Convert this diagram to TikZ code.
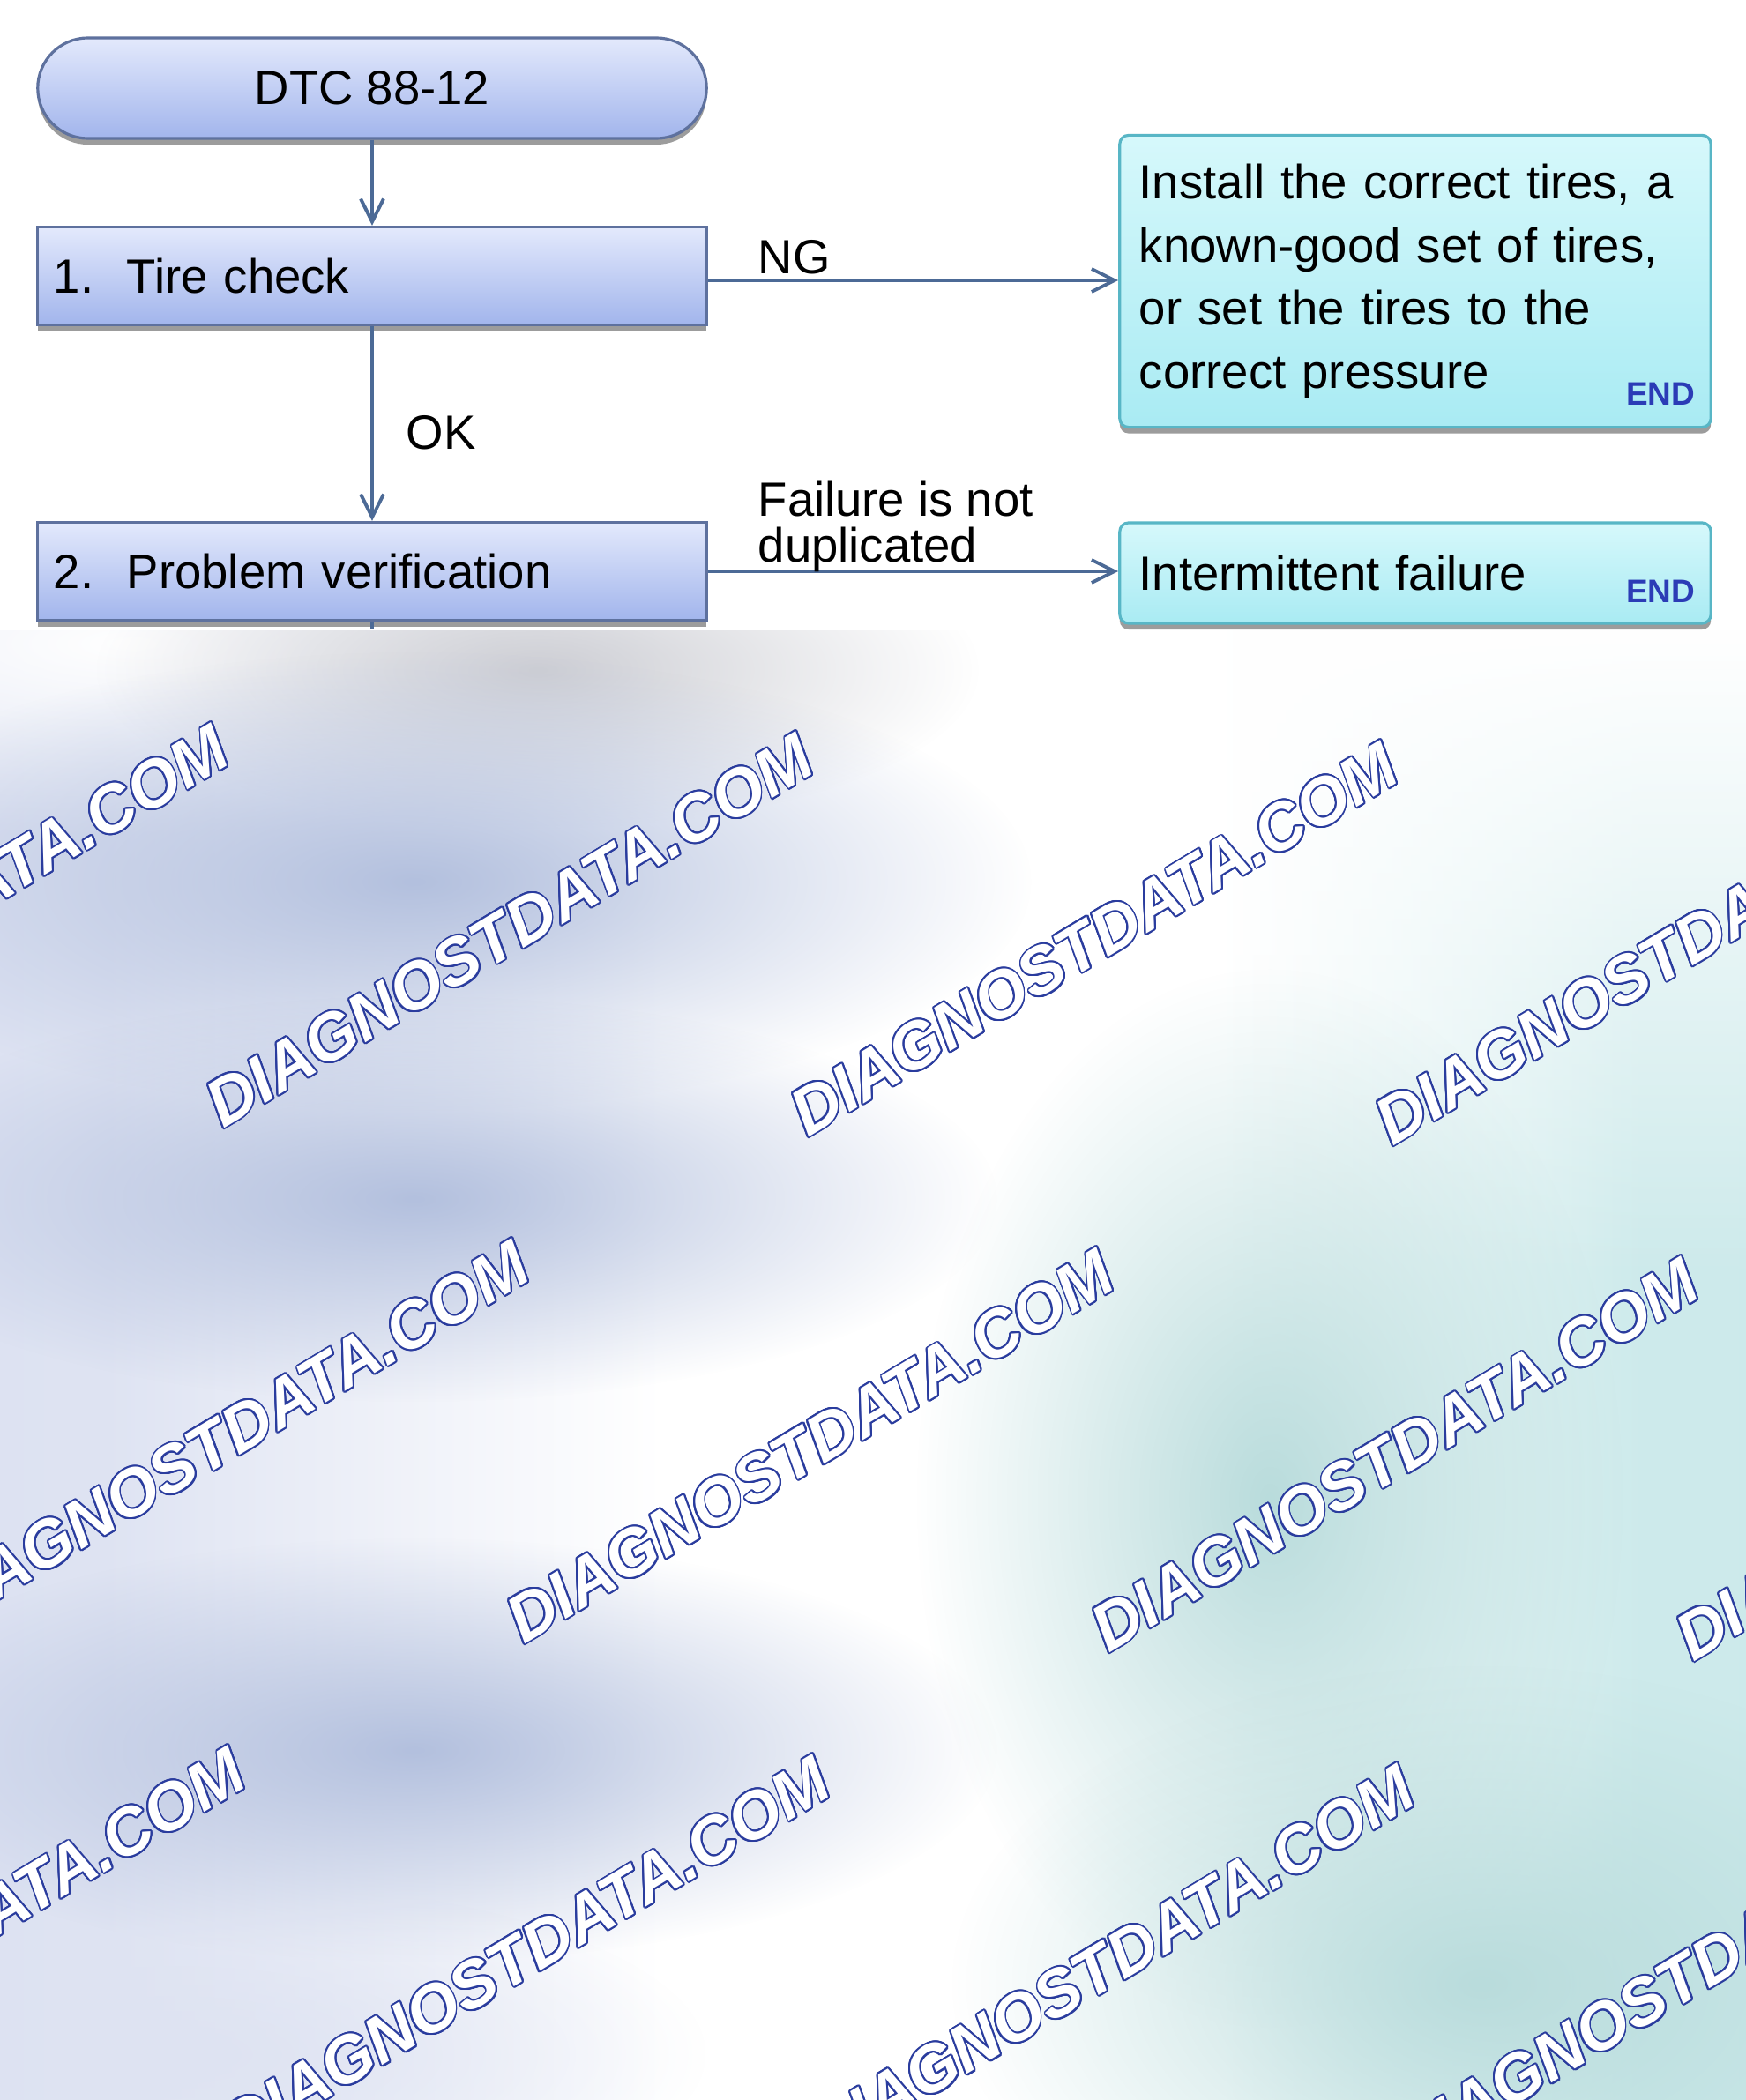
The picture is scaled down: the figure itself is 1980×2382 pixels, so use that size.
\documentclass[tikz,border=0pt]{standalone}
\usepackage{fontspec}
\setmainfont{Liberation Sans}
\usepackage[copies]{contour}
\usetikzlibrary{arrows.meta,shadows,fadings}

\definecolor{bluetop}{HTML}{E3E9FC}
\definecolor{bluebot}{HTML}{A2B5EC}
\definecolor{blueline}{HTML}{5E719E}
\definecolor{tealtop}{HTML}{D6F8FB}
\definecolor{tealbot}{HTML}{A9EBF3}
\definecolor{tealline}{HTML}{58B6C6}
\definecolor{arrowcol}{HTML}{4C6A96}
\definecolor{endcol}{HTML}{2B3CB6}
\definecolor{wmblue}{HTML}{2A3C9E}
\definecolor{bgleft}{HTML}{D6DDEF}
\definecolor{bgleftb}{HTML}{DEE3F2}
\definecolor{bgright}{HTML}{CDEAEB}
\definecolor{bgrightb}{HTML}{C8E9EA}
\definecolor{blobblue}{HTML}{B3C0DE}
\definecolor{blobgrey}{HTML}{CDCED4}
\definecolor{blobteal}{HTML}{B9DCDC}

\tikzfading[name=softblob, inner color=transparent!0, outer color=transparent!100]
\tikzfading[name=fadedown, top color=transparent!0, bottom color=transparent!100]
\pgfdeclarehorizontalshading{bgshade}{100bp}{color(0bp)=(bgleft); color(28bp)=(bgleftb); color(44bp)=(white); color(60bp)=(white); color(72bp)=(bgright); color(100bp)=(bgrightb)}

\contourlength{0.55pt}
\contournumber{20}

\begin{document}
\begin{tikzpicture}[x=0.01cm, y=-0.01cm,
  txt/.style={font=\fontsize{15.5pt}{20.4pt}\selectfont, text=black},
  shadowed/.style={drop shadow={shadow xshift=0pt, shadow yshift=-0.07cm, fill=black!55, opacity=0.7}},
  pill/.style={txt, shadowed, draw=blueline, line width=0.9pt, top color=bluetop, bottom color=bluebot, rounded corners=0.57cm, minimum width=7.58cm, minimum height=1.14cm},
  stepbox/.style={txt, shadowed, draw=blueline, line width=0.9pt, top color=bluetop, bottom color=bluebot, minimum height=1.11cm, text width=7.22cm, inner xsep=0.18cm, align=left},
  endbox/.style={txt, shadowed, draw=tealline, line width=0.9pt, top color=tealtop, bottom color=tealbot, rounded corners=0.1cm, text width=6.26cm, inner xsep=0.22cm, align=left},
  endlbl/.style={font=\bfseries\fontsize{10.5pt}{12pt}\selectfont, text=endcol, inner sep=0pt},
  lbl/.style={txt, inner sep=0pt, align=left},
  conn/.style={draw=arrowcol, line width=1.1pt, -{Straight Barb[length=0.26cm, width=0.26cm]}},
  plainline/.style={draw=arrowcol, line width=1.1pt},
  wm/.style={font=\bfseries\itshape\fontsize{21.3pt}{24pt}\selectfont, text=white, rotate=31, inner sep=0pt}
]
\useasboundingbox (0,0) rectangle (1980,2382);
\fill[white] (0,0) rectangle (1980,2382);

% blurred background
\begin{scope}
\clip (0,715) rectangle (1980,2382);
\shade[shading=bgshade] (0,715) rectangle (1980,2382);
\fill[white, path fading=fadedown] (1150,715) rectangle (1980,1450);
\fill[white, path fading=softblob] (150,730) ellipse [x radius=8cm, y radius=2.2cm];
\fill[white, path fading=softblob] (1060,1100) ellipse [x radius=4cm, y radius=12cm];
\fill[blobgrey, path fading=softblob] (610,760) ellipse [x radius=5cm, y radius=1.8cm];
\fill[blobblue, path fading=softblob] (470,1000) ellipse [x radius=7cm, y radius=2.6cm];
\fill[blobblue, path fading=softblob] (470,1360) ellipse [x radius=6.6cm, y radius=2.3cm];
\fill[blobblue, path fading=softblob] (470,1985) ellipse [x radius=6.6cm, y radius=2.4cm];
\fill[bgleftb, path fading=softblob] (200,2330) ellipse [x radius=6cm, y radius=2cm];
\fill[blobteal, path fading=softblob] (1440,1700) ellipse [x radius=4cm, y radius=6cm];
\fill[blobteal, path fading=softblob] (1680,2250) ellipse [x radius=6cm, y radius=3.6cm];
\foreach \i/\j [count=\k] in {-1/0,0/0,1/0,2/0,-1/1,0/1,1/1,2/1,-2/2,-1/2,0/2,1/2}{
  \node[wm] (wm\k) at ({578+663*\i+341*\j},{1056+10*\i+585*\j}) {\contour{wmblue}{DIAGNOSTDATA.COM}};
}
\end{scope}

% flowchart
\node[pill] (dtc) at (422,100) {DTC 88-12};
\node[stepbox] (s1) at (422,313) {\makebox[0.83cm][l]{1.}Tire check};
\node[stepbox] (s2) at (422,648) {\makebox[0.83cm][l]{2.}Problem verification};
\node[endbox, minimum height=3.31cm] (r1) at (1605,319) {Install the correct tires, a\\known-good set of tires,\\or set the tires to the\\correct pressure};
\node[endbox, minimum height=1.14cm] (r2) at (1605,650) {Intermittent failure};
\node[endlbl, anchor=east] (e1) at ([xshift=-0.19cm, yshift=0.39cm]r1.south east) {END};
\node[endlbl, anchor=east] (e2) at ([xshift=-0.19cm, yshift=0.38cm]r2.south east) {END};

\coordinate (stub) at (422,714);
\draw[conn] (dtc.south) -- (s1.north);
\draw[conn] (s1.south) -- (s2.north);
\draw[conn] ([yshift=-0.05cm]s1.east) -- ([yshift=-0.05cm]s1.east -| r1.west);
\draw[conn] (s2.east) -- (s2.east -| r2.west);
\draw[plainline] (s2.south) -- (stub);

\node[lbl, anchor=base west] (ng) at (859,311) {NG};
\node[lbl, anchor=base west] (ok) at (460,509) {OK};
\node[lbl, anchor=south west, font=\fontsize{15.5pt}{14.8pt}\selectfont] (fail) at (859,650) {Failure is not\\duplicated};
\end{tikzpicture}
\end{document}
